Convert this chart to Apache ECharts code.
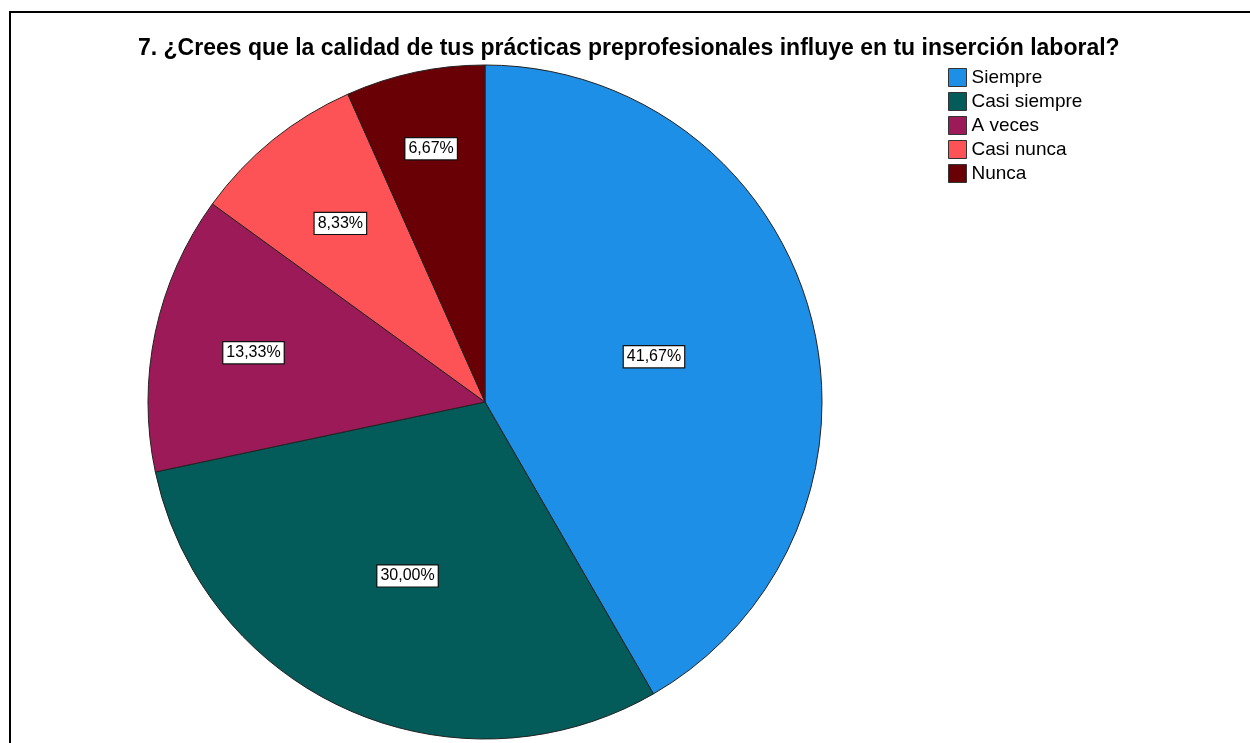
<!DOCTYPE html>
<html>
<head>
<meta charset="utf-8">
<script src="https://cdn.jsdelivr.net/npm/echarts@6/dist/echarts.min.js"></script>
<style>
  html, body { margin: 0; padding: 0; background: #fff; }
  #main { width: 1250px; height: 743px; }
</style>
</head>
<body>
<div id="main"></div>
<script>
const titleText = '7. ¿Crees que la calidad de tus prácticas preprofesionales influye en tu inserción laboral?';
const categories = ['Siempre', 'Casi siempre', 'A veces', 'Casi nunca', 'Nunca'];
const percents = [41.67, 30.00, 13.33, 8.33, 6.67];
const colors = ['#1e8fe6', '#035c59', '#9d1a59', '#fe5356', '#680006'];

// SPSS puts the labels at different depths inside each slice
const labelDepth = [0.51, 0.555, 0.69, 0.67, 0.755];
const pieCenter = [485, 402];

function initChart(dom) {
  const chart = echarts.init(dom, null, { renderer: 'canvas' });

  var option = {
    animation: false,
    backgroundColor: '#fff',
    title: {
      text: titleText,
      left: 138,
      top: 37,
      padding: 0,
      textStyle: {
        fontFamily: 'Arial, "Liberation Sans", sans-serif',
        fontSize: 23,
        fontWeight: 'bold',
        color: '#000'
      }
    },
    legend: {
      data: categories,
      orient: 'vertical',
      left: 948,
      top: 68,
      padding: 0,
      icon: 'rect',
      itemWidth: 18,
      itemHeight: 18,
      itemGap: 5,
      selectedMode: false,
      itemStyle: { borderColor: '#333', borderWidth: 1 },
      textStyle: {
        fontFamily: 'Arial, "Liberation Sans", sans-serif',
        fontSize: 19,
        color: '#000'
      }
    },
    graphic: [{
      type: 'rect',
      shape: { x: 10, y: 12, width: 1300, height: 800 },
      style: { fill: 'none', stroke: '#000', lineWidth: 2 },
      silent: true
    }],
    series: [{
      name: 'respuestas',
      type: 'pie',
      center: pieCenter,
      radius: 337,
      startAngle: 90,
      clockwise: true,
      avoidLabelOverlap: false,
      emphasis: { disabled: true },
      itemStyle: { borderColor: '#222', borderWidth: 1 },
      label: {
        show: true,
        position: 'inside',
        fontFamily: 'Arial, "Liberation Sans", sans-serif',
        fontSize: 16,
        color: '#000',
        backgroundColor: '#fff',
        borderColor: '#111',
        borderWidth: 1.2,
        padding: [3, 3, 2, 3],
        formatter: function (p) {
          return p.value.toFixed(2).replace('.', ',') + '%';
        }
      },
      labelLine: { show: false },
      labelLayout: function (params) {
        const r = params.labelRect;
        const cx = r.x + r.width / 2;
        const cy = r.y + r.height / 2;
        const k = labelDepth[params.dataIndex] / 0.5 - 1;
        return {
          dx: (cx - pieCenter[0]) * k,
          dy: (cy - pieCenter[1]) * k
        };
      },
      data: categories.map(function (name, i) {
        return { name: name, value: percents[i], itemStyle: { color: colors[i] } };
      })
    }]
  };
  chart.setOption(option);
  return chart;
}

initChart(document.getElementById('main'));
</script>
</body>
</html>
